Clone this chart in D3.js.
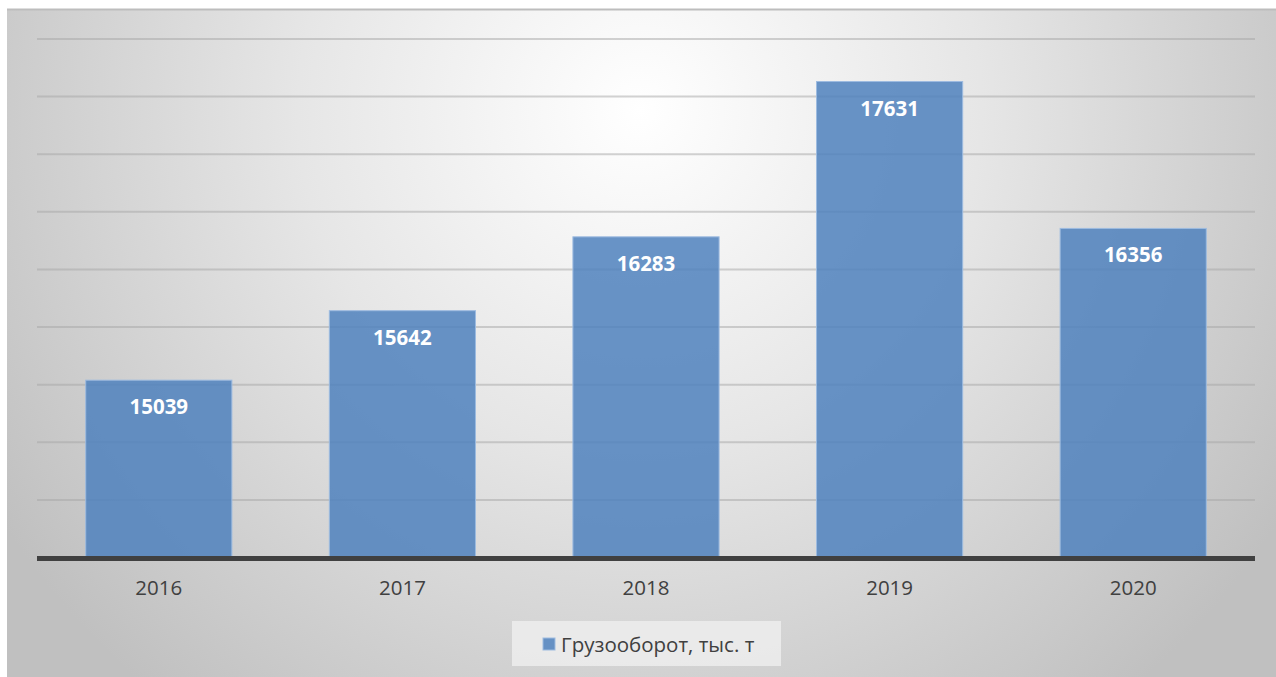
<!DOCTYPE html>
<html>
<head>
<meta charset="utf-8">
<script src="https://cdn.jsdelivr.net/npm/d3@7"></script>
<style>
  html, body { margin: 0; padding: 0; background: #ffffff; }
  svg { display: block; }
</style>
</head>
<body>
<svg id="chart" width="1276" height="677"></svg>
<script>
// Freight turnover by year
const years = ["2016", "2017", "2018", "2019", "2020"];
const turnover = [15039, 15642, 16283, 17631, 16356];
const seriesName = "Грузооборот, тыс. т";
const yDomain = [13500, 18000];
const yStep = 500;

const W = 1276, H = 677;
const svg = d3.select("#chart");
const defs = svg.append("defs");

const grad = defs.append("radialGradient")
  .attr("id", "bg")
  .attr("gradientUnits", "userSpaceOnUse")
  .attr("cx", 640).attr("cy", 110).attr("r", 760)
  .attr("fx", 640).attr("fy", 110);
grad.append("stop").attr("offset", "0%").attr("stop-color", "#ffffff");
grad.append("stop").attr("offset", "45%").attr("stop-color", "#e6e6e6");
grad.append("stop").attr("offset", "100%").attr("stop-color", "#c0c0c0");

// chart area
svg.append("rect")
  .attr("x", 7).attr("y", 9).attr("width", W - 7).attr("height", H - 9)
  .attr("fill", "url(#bg)");
svg.append("line")
  .attr("x1", 7).attr("x2", W).attr("y1", 9.5).attr("y2", 9.5)
  .attr("stroke", "#bdbdbd").attr("stroke-width", 2);

const plot = { left: 37, right: 1255, top: 39, bottom: 557.5 };

const x = d3.scaleBand()
  .domain(years)
  .range([plot.left, plot.right])
  .paddingInner(0.4).paddingOuter(0.2);

const y = d3.scaleLinear()
  .domain(yDomain)
  .range([plot.bottom, plot.top]);

// gridlines
const gridTicks = d3.range(yDomain[0] + yStep, yDomain[1] + 1, yStep);
svg.append("g")
  .selectAll("line")
  .data(gridTicks)
  .join("line")
  .attr("x1", plot.left).attr("x2", plot.right)
  .attr("y1", d => y(d)).attr("y2", d => y(d))
  .attr("stroke", "#a6a6a6").attr("stroke-opacity", 0.5)
  .attr("stroke-width", 2);

// bars
const data = years.map((yr, i) => ({ year: yr, value: turnover[i] }));
svg.append("g")
  .selectAll("rect")
  .data(data)
  .join("rect")
  .attr("x", d => x(d.year))
  .attr("y", d => y(d.value))
  .attr("width", x.bandwidth())
  .attr("height", d => y(yDomain[0]) - y(d.value))
  .attr("fill", "#4f81bd").attr("fill-opacity", 0.85)
  .attr("stroke", "#9dbbe0").attr("stroke-width", 1);

// value labels
svg.append("g")
  .selectAll("text")
  .data(data)
  .join("text")
  .attr("x", d => x(d.year) + x.bandwidth() / 2)
  .attr("y", d => y(d.value) + 34)
  .attr("text-anchor", "middle")
  .attr("font-family", "'Open Sans', sans-serif")
  .attr("font-weight", "bold")
  .attr("font-size", 20.5)
  .attr("fill", "#ffffff")
  .text(d => d.value);

// x axis
const xAxis = svg.append("g")
  .attr("transform", `translate(0,${plot.bottom + 1})`)
  .call(d3.axisBottom(x).tickSize(0).tickPadding(22));
xAxis.select(".domain")
  .attr("d", `M${plot.left},0H${plot.right}`)
  .attr("stroke", "#404040").attr("stroke-width", 5);
xAxis.selectAll("text")
  .attr("font-family", "'Open Sans', sans-serif")
  .attr("font-size", 20.5)
  .attr("fill", "#404040");

// legend
const lg = svg.append("g");
lg.append("rect")
  .attr("x", 512).attr("y", 621).attr("width", 269).attr("height", 45)
  .attr("fill", "#ededed").attr("fill-opacity", 0.85);
lg.append("rect")
  .attr("x", 543).attr("y", 638).attr("width", 12).attr("height", 12)
  .attr("fill", "#4f81bd").attr("fill-opacity", 0.85)
  .attr("stroke", "#9dbbe0").attr("stroke-width", 1);
lg.append("text")
  .attr("x", 561).attr("y", 651.5)
  .attr("font-family", "'Open Sans', sans-serif")
  .attr("font-size", 20.5)
  .attr("fill", "#404040")
  .text(seriesName);
</script>
</body>
</html>
